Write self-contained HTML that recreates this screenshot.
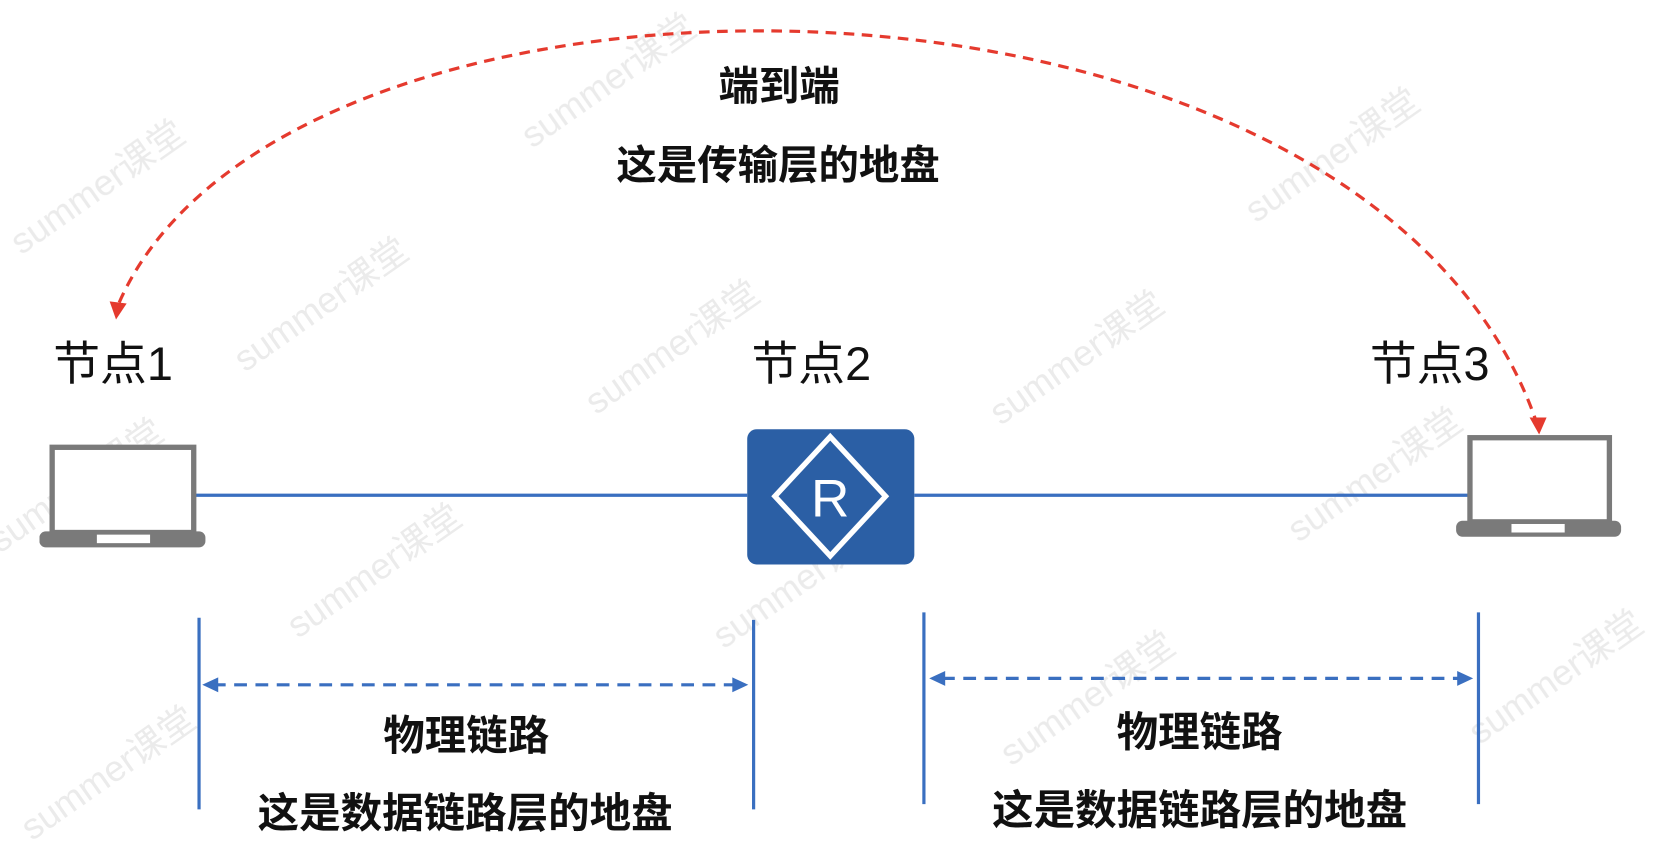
<!DOCTYPE html>
<html><head><meta charset="utf-8"><style>
html,body{margin:0;padding:0;background:#fff;}
svg{display:block;}
text{font-family:"Liberation Sans","Noto Sans CJK SC",sans-serif;}
</style></head><body>
<svg width="1669" height="852" viewBox="0 0 1568 800" preserveAspectRatio="none" xmlns="http://www.w3.org/2000/svg">
<rect width="1568" height="800" fill="#fff"/>
<g fill="#e6e6e6" font-size="34" opacity="0.8">
<text transform="translate(20,240) rotate(-35)">summer课堂</text>
<text transform="translate(230,350) rotate(-35)">summer课堂</text>
<text transform="translate(560,390) rotate(-35)">summer课堂</text>
<text transform="translate(940,400) rotate(-35)">summer课堂</text>
<text transform="translate(1180,210) rotate(-35)">summer课堂</text>
<text transform="translate(500,140) rotate(-35)">summer课堂</text>
<text transform="translate(280,600) rotate(-35)">summer课堂</text>
<text transform="translate(680,610) rotate(-35)">summer课堂</text>
<text transform="translate(950,720) rotate(-35)">summer课堂</text>
<text transform="translate(1220,510) rotate(-35)">summer课堂</text>
<text transform="translate(1390,700) rotate(-35)">summer课堂</text>
<text transform="translate(30,790) rotate(-35)">summer课堂</text>
<text transform="translate(0,520) rotate(-35)">summer课堂</text>
</g>
<line x1="183" y1="465" x2="702" y2="465" stroke="#3a6fc0" stroke-width="3"/>
<line x1="859" y1="465" x2="1380" y2="465" stroke="#3a6fc0" stroke-width="3"/>
<rect x="49" y="420" width="133" height="80" fill="#fff" stroke="#7a7a7a" stroke-width="5"/>
<rect x="37" y="499" width="156" height="15" rx="6" fill="#7a7a7a"/>
<rect x="91" y="502" width="50" height="8" fill="#fff"/>
<rect x="1381" y="411" width="131" height="79" fill="#fff" stroke="#7a7a7a" stroke-width="5"/>
<rect x="1368" y="489" width="155" height="15" rx="6" fill="#7a7a7a"/>
<rect x="1420" y="492" width="50" height="8" fill="#fff"/>
<rect x="702" y="403" width="157" height="127" rx="9" fill="#2b5fa5"/>
<polygon points="780,410 832,466 780,522 728,466" fill="none" stroke="#fff" stroke-width="5"/>
<text x="780" y="485" font-size="50" fill="#fff" text-anchor="middle">R</text>
<g font-size="44" fill="#111">
<text x="50" y="357">节点1</text>
<text x="706" y="357">节点2</text>
<text x="1287" y="357">节点3</text>
</g>
<path d="M112,284 C 270,-75 1280,-70 1443,395" fill="none" stroke="#e53a2e" stroke-width="3" stroke-dasharray="10,7"/>
<polygon points="103,283 119,285 109,300" fill="#e53a2e"/>
<polygon points="1437,392 1453,392 1446,408" fill="#e53a2e"/>
<g font-size="38" fill="#111" text-anchor="middle" font-weight="bold">
<text x="732" y="94">端到端</text>
<text x="731" y="168">这是传输层的地盘</text>
</g>
<g stroke="#3a6fc0" stroke-width="3">
<line x1="187" y1="580" x2="187" y2="760"/>
<line x1="708" y1="582" x2="708" y2="760"/>
<line x1="868" y1="575" x2="868" y2="755"/>
<line x1="1389" y1="575" x2="1389" y2="755"/>
<line x1="200" y1="643" x2="690" y2="643" stroke-dasharray="12,8"/>
<line x1="885" y1="637" x2="1372" y2="637" stroke-dasharray="12,8"/>
</g>
<g fill="#3a6fc0">
<polygon points="190,643 205,636 205,650"/>
<polygon points="703,643 688,636 688,650"/>
<polygon points="873,637 888,630 888,644"/>
<polygon points="1384,637 1369,630 1369,644"/>
</g>
<g font-size="39" fill="#111" text-anchor="middle" font-weight="bold">
<text x="438" y="704">物理链路</text>
<text x="437" y="777">这是数据链路层的地盘</text>
<text x="1127" y="701">物理链路</text>
<text x="1127" y="774">这是数据链路层的地盘</text>
</g>
</svg>
</body></html>
